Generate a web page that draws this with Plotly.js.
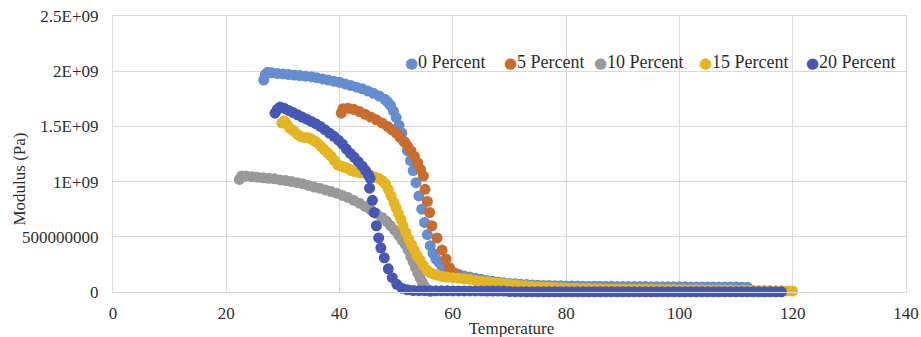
<!DOCTYPE html>
<html>
<head>
<meta charset="utf-8">
<script src="https://cdn.plot.ly/plotly-3.0.1.min.js"></script>
<style>
  html, body { margin: 0; padding: 0; background: #ffffff; }
  #chart { width: 921px; height: 337px; }
</style>
</head>
<body>
<div id="chart"></div>
<script>
// ---------------- data (temperature in °C, modulus in units of 1E+09 Pa) ----------------
const seriesNames = ["0 Percent", "5 Percent", "10 Percent", "15 Percent", "20 Percent"];

const temp0 = [26.6, 26.9, 27.3, 28, 29, 30, 31, 32, 33, 34, 35, 36, 37, 38, 39, 40, 41, 42, 43, 44, 45, 46, 47, 48, 48.5, 49, 49.5, 50, 50.5, 51, 51.5, 52, 52.5, 53, 53.5, 54, 54.5, 55, 55.5, 56, 56.5, 57, 57.5, 58,
  59, 60, 61, 62, 63, 64, 65, 66, 67, 68, 69, 70, 71, 72, 73, 74, 75, 76, 77, 78, 79, 80,
  81, 82, 83, 84, 85, 86, 87, 88, 89, 90, 91, 92, 93, 94, 95, 96, 97, 98, 99, 100,
  101, 102, 103, 104, 105, 106, 107, 108, 109, 110, 111, 112];
const mod0 = [1.92, 1.97, 1.99, 1.985, 1.98, 1.975, 1.97, 1.965, 1.96, 1.955, 1.95, 1.94, 1.93, 1.92, 1.91, 1.90, 1.885, 1.87, 1.855, 1.84, 1.82, 1.80, 1.775, 1.745, 1.72, 1.69, 1.64, 1.58, 1.51, 1.44, 1.36, 1.28, 1.19, 1.10, 0.99, 0.87, 0.75, 0.63, 0.52, 0.42, 0.35, 0.30, 0.27, 0.24,
  0.20, 0.18, 0.16, 0.145, 0.135, 0.125, 0.115, 0.105, 0.097, 0.09, 0.084, 0.078, 0.074, 0.07, 0.067, 0.064, 0.062, 0.06, 0.059, 0.057, 0.056, 0.055,
  0.054, 0.054, 0.053, 0.053, 0.052, 0.052, 0.051, 0.051, 0.05, 0.05, 0.05, 0.049, 0.049, 0.049, 0.048, 0.048, 0.048, 0.047, 0.047, 0.047,
  0.047, 0.046, 0.046, 0.046, 0.046, 0.045, 0.045, 0.045, 0.045, 0.045, 0.044, 0.044];

const temp5 = [40.3, 40.6, 41.5, 42.5, 43.5, 44.5, 45.5, 46.5, 47.5, 48.5, 49.2, 50, 50.7, 51.4, 52, 52.6, 53.2, 53.8, 54.3, 54.8, 55.1, 55.5, 55.9, 56.3, 57.2, 58.1, 58.8, 59.4, 60.3];
const mod5 = [1.62, 1.66, 1.665, 1.655, 1.635, 1.61, 1.585, 1.56, 1.53, 1.50, 1.47, 1.44, 1.40, 1.36, 1.32, 1.28, 1.23, 1.17, 1.11, 1.05, 0.93, 0.82, 0.72, 0.60, 0.49, 0.38, 0.30, 0.22, 0.17];

const temp10 = [22.3, 22.7, 23.5, 24.5, 25.5, 26.5, 27.5, 28.5, 29.5, 30.5, 31.5, 32.5, 33.5, 34.5, 35.5, 36.5, 37.5, 38.5, 39.5, 40.5, 41.5, 42.5, 43.5, 44.5, 45.5, 46.5, 47.5, 48.3, 49, 49.7, 50.4, 51, 51.6, 52.1, 52.6, 53, 53.4, 53.8, 54.2, 54.6, 55, 55.5, 56];
const mod10 = [1.02, 1.05, 1.05, 1.045, 1.04, 1.035, 1.03, 1.025, 1.015, 1.01, 1.0, 0.99, 0.98, 0.965, 0.95, 0.94, 0.925, 0.91, 0.895, 0.875, 0.855, 0.83, 0.805, 0.775, 0.745, 0.71, 0.675, 0.64, 0.60, 0.56, 0.515, 0.47, 0.43, 0.38, 0.32, 0.27, 0.22, 0.17, 0.13, 0.09, 0.05, 0.02, 0.005];

const temp15 = [29.8, 30.2, 30.7, 31.3, 31.9, 32.5, 33.1, 33.7, 34.3, 34.9, 35.5, 36.1, 36.7, 37.3, 37.9, 38.5, 39.1, 39.7, 40.3, 40.9, 41.5, 42.1, 42.7, 43.3, 43.9, 44.5, 45.1, 45.7, 46.3, 46.9, 47.5, 48.1, 48.6, 49.1, 49.6, 50, 50.4, 50.8, 51.2, 51.7, 52.2, 52.7, 53.2, 53.7, 54.2, 54.8, 55.4, 56, 56.7, 57.4, 58.2, 59,
  60, 61, 62, 63, 64, 65, 66, 67, 68, 69, 70, 71, 72, 73, 74, 75, 76, 77, 78, 79, 80,
  81, 82, 83, 84, 85, 86, 87, 88, 89, 90, 91, 92, 93, 94, 95, 96, 97, 98, 99, 100,
  101, 102, 103, 104, 105, 106, 107, 108, 109, 110, 111, 112, 113, 114, 115, 116, 117, 118, 119, 120];
const mod15 = [1.53, 1.55, 1.52, 1.48, 1.46, 1.43, 1.41, 1.40, 1.40, 1.39, 1.37, 1.35, 1.32, 1.29, 1.26, 1.23, 1.19, 1.15, 1.14, 1.13, 1.12, 1.10, 1.09, 1.085, 1.08, 1.075, 1.065, 1.05, 1.04, 1.03, 1.01, 0.98, 0.93, 0.87, 0.81, 0.76, 0.71, 0.66, 0.60, 0.54, 0.48, 0.43, 0.38, 0.33, 0.29, 0.24, 0.20, 0.175, 0.16, 0.15, 0.14, 0.135,
  0.13, 0.125, 0.12, 0.115, 0.105, 0.10, 0.093, 0.087, 0.081, 0.075, 0.07, 0.065, 0.06, 0.056, 0.052, 0.048, 0.045, 0.042, 0.04, 0.038, 0.036,
  0.034, 0.033, 0.032, 0.031, 0.030, 0.029, 0.028, 0.027, 0.027, 0.026, 0.026, 0.025, 0.025, 0.024, 0.024, 0.023, 0.023, 0.022, 0.022, 0.021,
  0.021, 0.02, 0.02, 0.019, 0.019, 0.018, 0.018, 0.017, 0.017, 0.016, 0.016, 0.015, 0.015, 0.014, 0.014, 0.013, 0.012, 0.011, 0.01, 0.008];

const temp20 = [28.6, 29.0, 29.5, 30.2, 31, 31.8, 32.6, 33.4, 34.2, 35, 35.8, 36.6, 37.4, 38.2, 39, 39.8, 40.5, 41.2, 41.9, 42.6, 43.3, 44, 44.6, 45.1, 45.4,
  45.3, 45.8, 46.1, 46.5, 46.9, 47.3, 47.9, 48.6, 49.3, 50.1, 51.0, 52.0,
  53, 54, 55, 56, 57, 58, 59, 60, 61, 62, 63, 64, 65, 66, 67, 68, 69, 70, 71, 72, 73, 74, 75, 76, 77, 78, 79, 80,
  81, 82, 83, 84, 85, 86, 87, 88, 89, 90, 91, 92, 93, 94, 95, 96, 97, 98, 99, 100,
  101, 102, 103, 104, 105, 106, 107, 108, 109, 110, 111, 112, 113, 114, 115, 116, 117, 118];
const mod20 = [1.62, 1.655, 1.675, 1.665, 1.645, 1.625, 1.605, 1.585, 1.565, 1.545, 1.525, 1.50, 1.47, 1.44, 1.41, 1.375, 1.34, 1.295, 1.255, 1.22, 1.18, 1.14, 1.10, 1.06, 1.03,
  0.94, 0.83, 0.72, 0.60, 0.49, 0.40, 0.31, 0.21, 0.13, 0.07, 0.035, 0.02,
  0.013, 0.012, 0.012, 0.011, 0.011, 0.011, 0.011, 0.01, 0.01, 0.01, 0.01, 0.01, 0.01, 0.009, 0.009, 0.009, 0.008, 0.004, 0.003, 0.003, 0.002, 0.002, 0.002, 0.002, 0.002, 0.002, 0.002, 0.002,
  0.002, 0.002, 0.002, 0.002, 0.002, 0.002, 0.002, 0.002, 0.002, 0.002, 0.002, 0.002, 0.002, 0.002, 0.002, 0.002, 0.002, 0.002, 0.002, 0.002,
  0.002, 0.002, 0.002, 0.002, 0.002, 0.002, 0.002, 0.002, 0.002, 0.002, 0.002, 0.002, 0.002, 0.002, 0.002, 0.002, 0.002, 0.002];

const xTickVals = [0, 20, 40, 60, 80, 100, 120, 140];
const yTickVals = [0, 0.5, 1, 1.5, 2, 2.5];
const yTickText = ["0", "500000000", "1E+09", "1.5E+09", "2E+09", "2.5E+09"];
const xTitle = "Temperature";
const yTitle = "Modulus (Pa)";

// ---------------- styling ----------------
const colors = ["#668DD0", "#C96D2E", "#999999", "#E5B521", "#4757B6"];
const legendLeftPx = [404, 503, 593, 698, 805];   // left edge of each legend entry (px)
const xs = [temp0, temp5, temp10, temp15, temp20];
const ys = [mod0, mod5, mod10, mod15, mod20];
const FONT = "Liberation Serif, Times New Roman, serif";
const TXT = "#2E2E2E";
const M = { l: 113, r: 15, t: 16, b: 45 };
const plotW = 921 - M.l - M.r;

const traces = seriesNames.map((name, i) => ({
  type: "scatter",
  mode: "markers",
  name: name,
  x: xs[i],
  y: ys[i],
  cliponaxis: false,
  showlegend: false,
  marker: { color: colors[i], size: 11, line: { width: 0 } },
  hoverinfo: "skip"
}));

// legend entries (marker glyph + series name)
const legendAnns = seriesNames.map((name, i) => ({
  xref: "paper", yref: "paper",
  x: (legendLeftPx[i] - M.l) / plotW, xanchor: "left",
  y: 0.833, yanchor: "middle",
  showarrow: false,
  borderpad: 0,
  text: '<span style="color:' + colors[i] + ';font-family:DejaVu Sans;font-size:15px">\u25CF</span>' + name,
  font: { family: FONT, size: 18, color: TXT }
}));

const layout = {
  width: 921,
  height: 337,
  margin: { l: M.l, r: M.r, t: M.t, b: M.b, pad: 0 },
  paper_bgcolor: "#ffffff",
  plot_bgcolor: "#ffffff",
  font: { family: FONT, size: 17, color: TXT },
  showlegend: false,
  annotations: legendAnns,
  xaxis: {
    range: [0, 140],
    tickvals: xTickVals,
    ticktext: xTickVals.map(String),
    showgrid: true, gridcolor: "#D9D9D9", gridwidth: 1,
    zeroline: false,
    showline: true, linecolor: "#D9D9D9", linewidth: 1, mirror: true,
    ticks: "", ticklabelstandoff: 6,
    automargin: false,
    title: { text: xTitle, font: { family: FONT, size: 17, color: TXT }, standoff: 6 }
  },
  yaxis: {
    range: [0, 2.5],
    tickvals: yTickVals,
    ticktext: yTickText,
    showgrid: true, gridcolor: "#D9D9D9", gridwidth: 1,
    zeroline: false,
    showline: true, linecolor: "#D9D9D9", linewidth: 1, mirror: true,
    ticks: "", ticklabelstandoff: 10,
    automargin: false,
    title: { text: yTitle, font: { family: FONT, size: 17, color: TXT }, standoff: 0 }
  }
};

// the original chart's axis titles sit off-centre relative to the plot area
const titleShift = { x: [2, 1], y: [8, 25] };

Plotly.newPlot("chart", traces, layout, { displayModeBar: false, staticPlot: true }).then(gd => {
  ["x", "y"].forEach(a => {
    const g = gd.querySelector(".g-" + a + "title");
    if (g) {
      const prev = g.getAttribute("transform") || "";
      g.setAttribute("transform", prev + " translate(" + titleShift[a][0] + "," + titleShift[a][1] + ")");
    }
  });
});
</script>
</body>
</html>
